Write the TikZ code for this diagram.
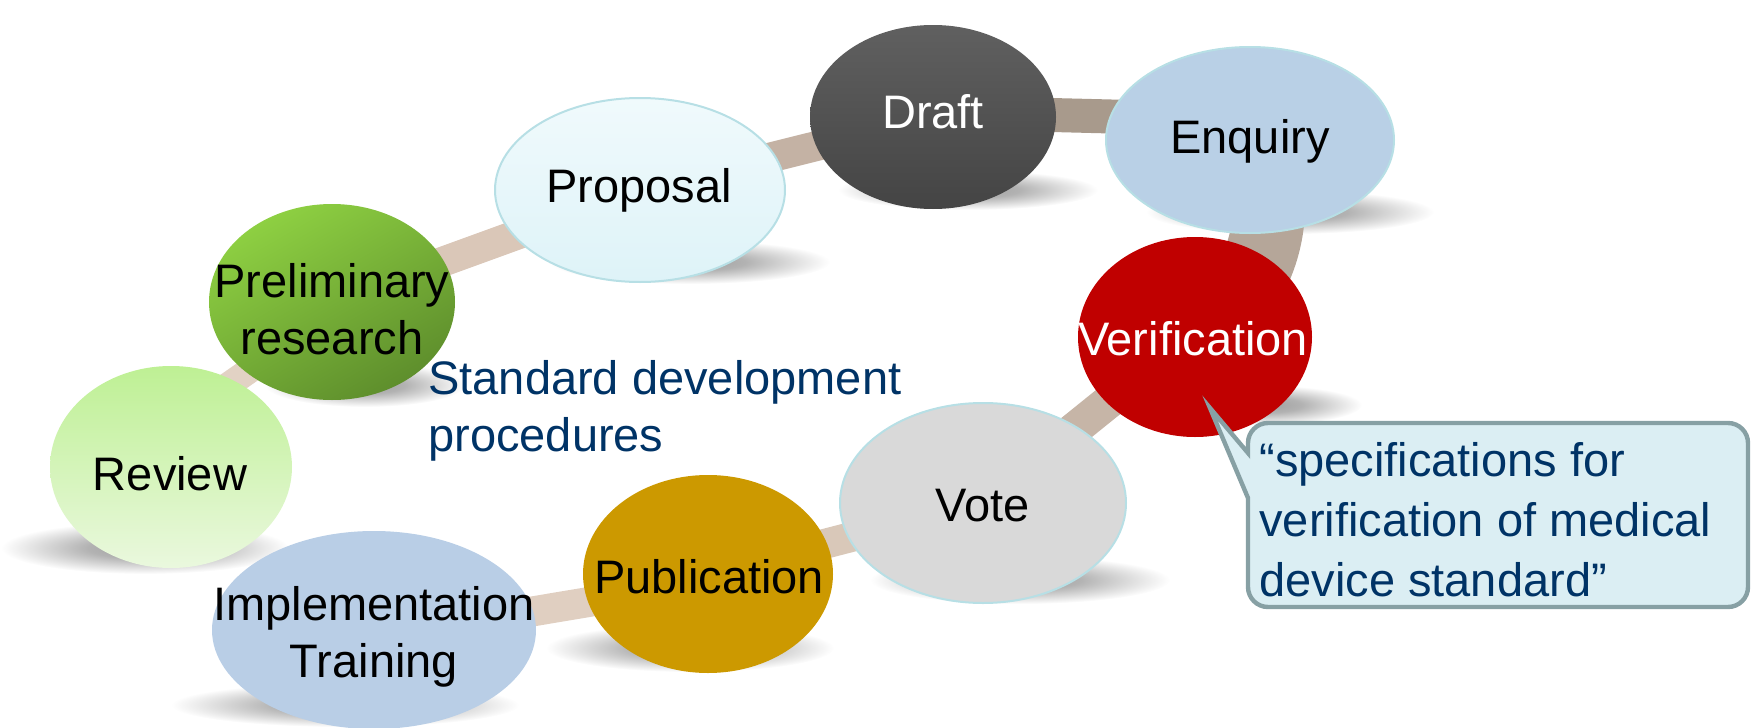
\documentclass[tikz,border=0pt]{standalone}
\usepackage{fontspec}
\setmainfont{Liberation Sans}
\usetikzlibrary{shapes.geometric,calc}
\definecolor{revTop}{RGB}{190,240,148}
\definecolor{revBot}{RGB}{234,248,222}
\definecolor{preTop}{RGB}{142,208,66}
\definecolor{preBot}{RGB}{94,142,44}
\definecolor{propTop}{RGB}{240,250,252}
\definecolor{propBot}{RGB}{222,243,248}
\definecolor{cyanEdge}{RGB}{183,223,229}
\definecolor{draftTop}{RGB}{96,96,96}
\definecolor{draftBot}{RGB}{68,68,68}
\definecolor{enqFill}{RGB}{185,208,230}
\definecolor{verFill}{RGB}{192,0,0}
\definecolor{voteFill}{RGB}{217,217,217}
\definecolor{pubFill}{RGB}{204,153,0}
\definecolor{impFill}{RGB}{185,206,230}
\definecolor{navy}{RGB}{0,51,102}
\definecolor{noteFill}{RGB}{219,238,243}
\definecolor{noteEdge}{RGB}{135,160,164}
\definecolor{bandA}{RGB}{226,210,196}
\definecolor{bandB}{RGB}{218,199,184}
\definecolor{bandC}{RGB}{196,178,164}
\definecolor{bandD}{RGB}{168,154,140}
\definecolor{bandE}{RGB}{181,166,153}
\definecolor{bandF}{RGB}{198,181,167}
\definecolor{bandG}{RGB}{217,200,185}
\definecolor{bandH}{RGB}{224,207,193}
\pgfdeclareradialshading{softshadow}{\pgfpointorigin}{color(0bp)=(black!38); color(10bp)=(black!30); color(25bp)=(white); color(50bp)=(white)}
\pgfdeclarelayer{shadowlayer}
\pgfdeclarelayer{bandlayer}
\pgfsetlayers{shadowlayer,bandlayer,main}
\begin{document}
\begin{tikzpicture}[x=0.5pt,y=-0.5pt,
  stagebox/.style={ellipse, inner sep=0pt, outer sep=0pt},
  lbl/.style={font=\fontsize{23.5}{28.5}\selectfont, align=center, inner sep=0pt},
  band/.style={line width=15pt},
  shadowblob/.style={shading=softshadow}]
\useasboundingbox (0,0) rectangle (1752,728);
% shadows
\begin{pgfonlayer}{shadowlayer}
\shade[shadowblob] (145,548) ellipse (72pt and 13pt);
\shade[shadowblob] (365,385) ellipse (50pt and 11pt);
\shade[shadowblob] (690,262) ellipse (70pt and 11pt);
\shade[shadowblob] (968,190) ellipse (65pt and 10pt);
\shade[shadowblob] (1290,212) ellipse (72pt and 11pt);
\shade[shadowblob] (1262,405) ellipse (50pt and 10pt);
\shade[shadowblob] (1020,580) ellipse (75pt and 12pt);
\shade[shadowblob] (690,648) ellipse (72pt and 12pt);
\shade[shadowblob] (345,705) ellipse (87pt and 11pt);
\end{pgfonlayer}
% stage nodes (shapes)
\node[stagebox, top color=revTop, bottom color=revBot, minimum width=121pt, minimum height=101pt] (review) at (171,467) {};
\node[stagebox, top color=preTop, bottom color=preBot, shading angle=30, minimum width=123pt, minimum height=98pt] (prelim) at (332,302) {};
\node[stagebox, top color=propTop, bottom color=propBot, draw=cyanEdge, line width=1pt, minimum width=145pt, minimum height=92pt] (proposal) at (640,190) {};
\node[stagebox, top color=draftTop, bottom color=draftBot, minimum width=123pt, minimum height=92pt] (draft) at (933,117) {};
\node[stagebox, fill=enqFill, draw=cyanEdge, line width=1pt, minimum width=144pt, minimum height=93pt] (enquiry) at (1250,140) {};
\node[stagebox, fill=verFill, minimum width=117pt, minimum height=100pt] (verif) at (1195,337) {};
\node[stagebox, fill=voteFill, draw=cyanEdge, line width=1pt, minimum width=143pt, minimum height=100pt] (vote) at (983,503) {};
\node[stagebox, fill=pubFill, minimum width=125pt, minimum height=99pt] (pub) at (708,574) {};
\node[stagebox, fill=impFill, minimum width=162pt, minimum height=99pt] (impl) at (374,630) {};
% band (behind the stages)
\begin{pgfonlayer}{bandlayer}
\draw[band, draw=bandA, line width=13pt] ($(review.center)+(0,-42)$) -- ($(prelim.center)+(0,11)$);
\draw[band, draw=bandB] (prelim.center) -- (proposal.center);
\draw[band, draw=bandC] (proposal.center) -- (draft.center);
\draw[band, draw=bandD, line width=17pt] ($(draft.center)+(0,-5)$) -- ($(enquiry.center)+(0,-20)$);
\draw[band, draw=bandE, line width=36pt] ($(enquiry.center)+(8,0)$) .. controls (1283,210) and (1268,290) .. (verif.center);
\draw[band, draw=bandF, line width=17pt] ($(verif.center)+(0,-5)$) -- (vote.center);
\draw[band, draw=bandG] (vote.center) -- (pub.center);
\draw[band, draw=bandH] ($(pub.center)+(0,8)$) -- ($(impl.center)+(0,8)$);
\end{pgfonlayer}
% text
\node[lbl] (treview) at (170,474) {Review};
\node[lbl] (tprelim) at (332,309) {Preliminary\\research};
\node[lbl] (tproposal) at (639,190) {Proposal};
\node[lbl, text=white] (tdraft) at (933,112) {Draft};
\node[lbl] (tenquiry) at (1250,141) {Enquiry};
\node[lbl, text=white] (tverif) at (1193,339) {Verification};
\node[lbl] (tvote) at (983,506) {Vote};
\node[lbl] (tpub) at (709,577) {Publication};
\node[lbl] (timpl) at (374,637) {Implementation\\Training};
\node[lbl, text=navy, align=left, anchor=west] (title) at (428,411) {Standard development\\procedures};
% callout
\coordinate (tip) at (1210,408);
\draw[line width=2.2pt, draw=noteEdge, fill=noteFill] (tip) -- (1248,453) [rounded corners=10pt] -- (1248,423) -- (1748,423) -- (1748,607) -- (1248,607) [sharp corners] -- (1248,498) -- cycle;
\node[lbl, font=\fontsize{23.5}{30}\selectfont, text=navy, align=left, anchor=west] (note) at (1259,520) {“specifications for\\verification of medical\\device standard”};
\end{tikzpicture}
\end{document}
